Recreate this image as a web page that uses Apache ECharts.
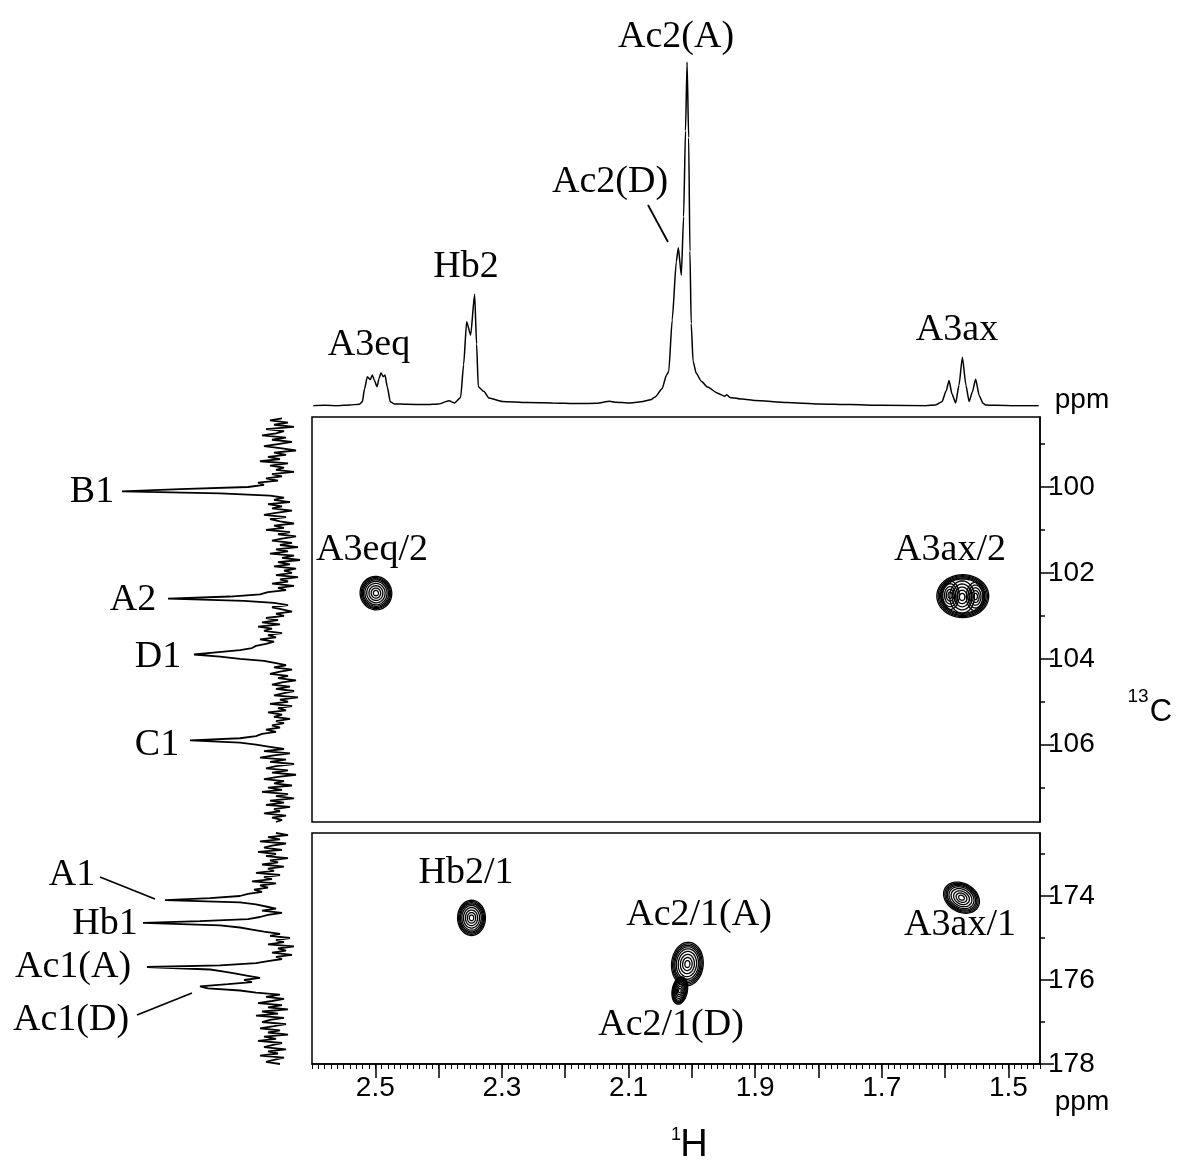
<!DOCTYPE html>
<html>
<head>
<meta charset="utf-8">
<script src="https://cdn.jsdelivr.net/npm/echarts@6/dist/echarts.min.js"></script>
<style>
html,body{margin:0;padding:0;background:#fff;}
#c{width:1177px;height:1161px;}
</style>
</head>
<body>
<div id="c"></div>
<script>
// ---- 1H axis ticks / labels ----
var hMajorTicks = [1.5,1.6,1.7,1.8,1.9,2.0,2.1,2.2,2.3,2.4,2.5];
var hLabels = [1.5,1.7,1.9,2.1,2.3,2.5];
// ---- 13C axis ticks / labels ----
var cUpperMajor = [100,102,104,106];
var cUpperMinor = [99,101,103,105,107];
var cLowerMajor = [174,176,178];
var cLowerMinor = [173,175,177];

// ---- 1D 1H spectrum (top) : [ppm, intensity] ----
var topSpectrum = [
[2.598,0.1],[2.58,0.2],[2.56,0.1],[2.54,0.3],[2.525,0.5],[2.5205,1.2],[2.517,5.0],[2.5126,8.5],[2.5079,7.7],[2.5047,9.0],[2.5015,7.5],[2.4973,5.6],[2.494,8.0],[2.491,9.7],[2.4874,8.5],[2.4847,9.0],[2.481,5.5],[2.4763,1.2],[2.47,0.6],[2.45,0.5],[2.42,0.4],[2.40,0.6],[2.3836,1.5],[2.375,0.9],[2.3652,2.5],[2.3605,12],[2.3557,24.5],[2.3494,20.6],[2.3431,32.5],[2.340,18],[2.3373,5.6],[2.3283,4.2],[2.3204,2.3],[2.2994,1.3],[2.26,1.0],[2.22,0.9],[2.18,0.7],[2.15,0.8],[2.13,1.4],[2.12,1.1],[2.10,0.9],[2.08,1.2],[2.065,1.8],[2.058,2.6],[2.047,5.0],[2.040,9.0],[2.0365,10],[2.031,25],[2.0245,42],[2.0213,46],[2.0166,38],[2.013,55],[2.010,80],[2.0075,100],[2.005,78],[2.003,45],[2.001,24],[1.998,13],[1.993,9.5],[1.985,7.2],[1.975,5.5],[1.96,3.8],[1.948,2.8],[1.945,3.3],[1.94,2.5],[1.92,2.0],[1.90,1.6],[1.85,1.0],[1.80,0.6],[1.75,0.4],[1.70,0.2],[1.63,0.1],[1.615,0.3],[1.605,1.2],[1.598,4.5],[1.5937,7.4],[1.589,3.5],[1.5832,0.9],[1.578,6],[1.5726,14.2],[1.567,6],[1.562,1.3],[1.557,4],[1.5516,7.8],[1.546,3],[1.54,0.8],[1.536,0.3],[1.52,0.2],[1.49,0.1],[1.452,0.1]
];

// ---- 13C projection, upper region : [intensity, ppm] ----
var projUpper = [
[9,98.40],[15,98.45],[6,98.50],[13,98.55],[3,98.60],[17,98.65],[8,98.70],[12,98.75],[19,98.80],[7,98.85],[14,98.90],[4,98.95],[11,99.00],[18,99.05],[9,99.10],[2,99.15],[13,99.20],[7,99.25],[16,99.30],[10,99.35],[20,99.40],[6,99.45],[15,99.50],[8,99.55],[12,99.60],[3,99.65],[14,99.70],[9,99.75],[17,99.80],[11,99.85],[21,99.90],[18,99.95],
[26,100.00],[60,100.05],[89,100.10],[40,100.15],[15,100.20],
[8,100.25],[13,100.30],[5,100.35],[16,100.40],[9,100.45],[14,100.50],[4,100.55],[12,100.60],[18,100.65],[7,100.70],[15,100.75],[10,100.80],[3,100.85],[13,100.90],[8,100.95],[17,101.00],[5,101.05],[11,101.10],[2,101.15],[9,101.20],[14,101.25],[4,101.30],[10,101.35],[1,101.40],[12,101.45],[6,101.50],[15,101.55],[3,101.60],[9,101.65],[0,101.70],[11,101.75],[5,101.80],[13,101.85],[2,101.90],[8,101.95],[4,102.00],[12,102.05],[1,102.10],[10,102.15],[6,102.20],[14,102.25],[3,102.30],[11,102.35],[7,102.40],[16,102.45],[20,102.50],
[35,102.55],[66,102.60],[28,102.65],[13,102.70],
[6,102.75],[14,102.80],[9,102.85],[4,102.90],[12,102.95],[8,103.00],[17,103.05],[11,103.10],[19,103.15],[10,103.20],[21,103.25],[14,103.30],[18,103.35],[9,103.40],[16,103.45],[12,103.50],[20,103.55],[13,103.60],[17,103.65],[22,103.70],[24,103.75],
[30,103.80],[42,103.85],[53,103.90],[40,103.95],[30,104.00],[18,104.05],
[12,104.10],[7,104.15],[13,104.20],[4,104.25],[10,104.30],[15,104.35],[6,104.40],[11,104.45],[2,104.50],[9,104.55],[14,104.60],[5,104.65],[12,104.70],[3,104.75],[8,104.80],[13,104.85],[1,104.90],[10,104.95],[6,105.00],[15,105.05],[4,105.10],[11,105.15],[7,105.20],[16,105.25],[9,105.30],[13,105.35],[5,105.40],[12,105.45],[8,105.50],[14,105.55],[10,105.60],[17,105.65],[12,105.70],[19,105.75],[22,105.80],
[30,105.85],[55,105.90],[30,105.95],[22,106.00],
[15,106.05],[8,106.10],[18,106.15],[5,106.20],[13,106.25],[20,106.30],[7,106.35],[15,106.40],[3,106.45],[12,106.50],[17,106.55],[6,106.60],[14,106.65],[2,106.70],[11,106.75],[18,106.80],[8,106.85],[13,106.90],[4,106.95],[16,107.00],[9,107.05],[19,107.10],[6,107.15],[12,107.20],[3,107.25],[15,107.30],[8,107.35],[17,107.40],[5,107.45],[13,107.50],[10,107.55],[18,107.60],[7,107.65],[14,107.70],[9,107.75],[12,107.80]
];

// ---- 13C projection, lower (carbonyl) region : [intensity, ppm] ----
var projLower = [
[12,172.50],[6,172.55],[16,172.60],[10,172.65],[20,172.70],[7,172.75],[14,172.80],[18,172.85],[9,172.90],[21,172.95],[12,173.00],[17,173.05],[6,173.10],[15,173.15],[11,173.20],[19,173.25],[8,173.30],[16,173.35],[13,173.40],[22,173.45],[10,173.50],[18,173.55],[14,173.60],[24,173.65],[12,173.70],[20,173.75],[16,173.80],[23,173.85],[19,173.90],[26,173.95],
[30,174.00],[45,174.05],[67.5,174.10],[30,174.15],[22,174.20],
[17,174.25],[12,174.30],[19,174.35],[9,174.40],[16,174.45],[20,174.50],[26,174.55],
[50,174.60],[78.5,174.64],[40,174.70],[30,174.75],[24,174.80],[18,174.85],
[10,174.90],[15,174.95],[5,175.00],[12,175.05],[8,175.10],[16,175.15],[3,175.20],[11,175.25],[7,175.30],[14,175.35],[4,175.40],[12,175.45],[9,175.50],[16,175.55],[22,175.60],
[40,175.65],[76.5,175.69],[45,175.75],[38,175.80],[32,175.85],[26,175.90],[20,175.95],[28,176.00],[24,176.05],
[36,176.10],[50,176.15],[46,176.20],[30,176.25],[22,176.30],
[10,176.35],[17,176.40],[8,176.45],[14,176.50],[21,176.55],[9,176.60],[16,176.65],[6,176.70],[19,176.75],[11,176.80],[22,176.85],[8,176.90],[15,176.95],[19,177.00],[7,177.05],[13,177.10],[20,177.15],[10,177.20],[16,177.25],[6,177.30],[18,177.35],[12,177.40],[21,177.45],[9,177.50],[14,177.55],[18,177.60],[7,177.65],[16,177.70],[11,177.75],[20,177.80],[8,177.85],[13,177.90],[17,177.95],[10,178.00]
];

// ---- 2D cross peaks : [1H ppm, 13C ppm, half width 1H, half width 13C, tilt deg, level set] ----
var peaksUpper = [
[2.499,102.47,0.025,0.39,-10,0],
[1.572,102.54,0.041,0.50,0,1],
[1.592,102.52,0.020,0.46,0,2],
[1.573,102.56,0.027,0.52,0,2],
[1.552,102.55,0.020,0.46,0,2]
];
var peaksLower = [
[2.348,174.52,0.022,0.42,0,0],
[2.007,175.62,0.025,0.52,5,0],
[2.019,176.25,0.012,0.33,10,0],
[1.574,174.04,0.030,0.34,30,0]
];
var contourLevelSets = [
  [1,0.93,0.86,0.79,0.7,0.58,0.44,0.3,0.16],
  [1,0.95,0.9,0.85,0.8],
  [0.72,0.58,0.44,0.3,0.16]
];

function expand(peaks){
  var out=[];
  peaks.forEach(function(p){
    contourLevelSets[p[5]].forEach(function(l){ out.push([p[0],p[1],p[2],p[3],p[4],l]); });
  });
  return out;
}
function renderContour(params, api){
  var cx=api.value(0), cy=api.value(1), rx=api.value(2), ry=api.value(3), rot=api.value(4), lv=api.value(5);
  var c=api.coord([cx,cy]);
  var s=api.size([rx*2*lv, ry*2*lv],[cx,cy]);
  var a=Math.abs(s[0])/2, b=Math.abs(s[1])/2;
  var th=rot*Math.PI/180, pts=[];
  for(var i=0;i<48;i++){
    var t=2*Math.PI*i/48, ex=a*Math.cos(t), ey=b*Math.sin(t);
    pts.push([c[0]+ex*Math.cos(th)-ey*Math.sin(th), c[1]+ex*Math.sin(th)+ey*Math.cos(th)]);
  }
  return {type:'polygon', shape:{points:pts}, style:{fill:'none', stroke:'#000', lineWidth:1.3}};
}

var SERIF='"Liberation Serif", "Times New Roman", serif';
var SANS='"Liberation Sans", Arial, sans-serif';
var H_MIN=1.45, H_MAX=2.6;
var CU_MIN=98.37, CU_MAX=107.8, CL_MIN=172.5, CL_MAX=178;

function hAxis(grid, show){
  return {type:'value', gridIndex:grid, min:H_MIN, max:H_MAX, inverse:true, show:show,
    axisLine:{onZero:false}, splitLine:{show:false}};
}

var chart=echarts.init(document.getElementById('c'));
var labels=[
  ['Ac2(A)',676,37],['Ac2(D)',610,182],['Hb2',466,267],['A3eq',369,345],['A3ax',957,330],
  ['A3eq/2',372,550],['A3ax/2',950,550],['Hb2/1',466,873],['Ac2/1(A)',699,915],['Ac2/1(D)',671,1025],['A3ax/1',960,925],
  ['B1',92,492],['A2',133,600],['D1',158,657],['C1',157,745],['A1',72,875],['Hb1',105,924],['Ac1(A)',73,967],['Ac1(D)',71,1020]
];
var graphics=labels.map(function(l){
  return {type:'text', x:l[1], y:l[2], style:{text:l[0], font:'38px '+SERIF, fill:'#000', textAlign:'center', textVerticalAlign:'middle'}};
});
[[648,205,668,242],[100,877,155,899],[137,1015,192,993]].forEach(function(s){
  graphics.push({type:'line', shape:{x1:s[0],y1:s[1],x2:s[2],y2:s[3]}, style:{stroke:'#000', lineWidth:1.8}});
});
graphics.push({type:'text', x:1082, y:400, style:{text:'ppm', font:'28px '+SANS, fill:'#000', textAlign:'center', textVerticalAlign:'middle'}});
graphics.push({type:'text', x:1082, y:1102, style:{text:'ppm', font:'28px '+SANS, fill:'#000', textAlign:'center', textVerticalAlign:'middle'}});
graphics.push({type:'text', x:1138, y:697, style:{text:'13', font:'19px '+SANS, fill:'#000', textAlign:'center', textVerticalAlign:'middle'}});
graphics.push({type:'text', x:1161, y:712, style:{text:'C', font:'31px '+SANS, fill:'#000', textAlign:'center', textVerticalAlign:'middle'}});
graphics.push({type:'text', x:676, y:1135, style:{text:'1', font:'18px '+SANS, fill:'#000', textAlign:'center', textVerticalAlign:'middle'}});
graphics.push({type:'text', x:694, y:1146, style:{text:'H', font:'38px '+SANS, fill:'#000', textAlign:'center', textVerticalAlign:'middle'}});

var option={
  animation:false,
  backgroundColor:'#fff',
  grid:[
    {left:312, width:728, top:62, height:344, show:false},
    {left:312, width:728, top:417, height:405, show:true, borderColor:'#000', borderWidth:1.5},
    {left:312, width:728, top:833, height:231, show:true, borderColor:'#000', borderWidth:1.5},
    {left:100, width:200, top:417, height:405, show:false},
    {left:100, width:200, top:833, height:231, show:false}
  ],
  xAxis:[
    hAxis(0,false),
    hAxis(1,false),
    {type:'value', gridIndex:2, min:H_MIN, max:H_MAX, inverse:true, position:'bottom',
      axisLine:{show:true, onZero:false, lineStyle:{color:'#000', width:1.5}},
      axisTick:{show:true, customValues:hMajorTicks, length:14, lineStyle:{color:'#000', width:1.5}},
      axisLabel:{show:true, customValues:hLabels, margin:10, color:'#000', fontSize:28, fontFamily:SANS,
        formatter:function(v){return v.toFixed(1);}},
      splitLine:{show:false}},
    {type:'value', gridIndex:2, min:H_MIN, max:H_MAX, interval:0.05, inverse:true, position:'bottom',
      axisLine:{show:false, onZero:false},
      axisTick:{show:true, length:5, lineStyle:{color:'#000', width:1}},
      minorTick:{show:true, splitNumber:5, length:5, lineStyle:{color:'#000', width:1}},
      axisLabel:{show:false}, splitLine:{show:false}, minorSplitLine:{show:false}},
    {type:'value', gridIndex:3, min:0, max:100, inverse:true, show:false},
    {type:'value', gridIndex:4, min:0, max:100, inverse:true, show:false}
  ],
  yAxis:[
    {type:'value', gridIndex:0, min:0, max:100, show:false},
    {type:'value', gridIndex:1, min:CU_MIN, max:CU_MAX, inverse:true, position:'right',
      axisLine:{show:true, onZero:false, lineStyle:{color:'#000', width:1.5}},
      axisTick:{show:true, customValues:cUpperMajor, length:14, lineStyle:{color:'#000', width:1.5}},
      axisLabel:{show:true, customValues:cUpperMajor, margin:8, color:'#000', fontSize:28, fontFamily:SANS},
      splitLine:{show:false}},
    {type:'value', gridIndex:1, min:CU_MIN, max:CU_MAX, inverse:true, position:'right',
      axisLine:{show:false, onZero:false},
      axisTick:{show:true, customValues:cUpperMinor, length:5, lineStyle:{color:'#000', width:1.5}},
      axisLabel:{show:false}, splitLine:{show:false}},
    {type:'value', gridIndex:2, min:CL_MIN, max:CL_MAX, inverse:true, position:'right',
      axisLine:{show:true, onZero:false, lineStyle:{color:'#000', width:1.5}},
      axisTick:{show:true, customValues:cLowerMajor, length:14, lineStyle:{color:'#000', width:1.5}},
      axisLabel:{show:true, customValues:cLowerMajor, margin:8, color:'#000', fontSize:28, fontFamily:SANS},
      splitLine:{show:false}},
    {type:'value', gridIndex:2, min:CL_MIN, max:CL_MAX, inverse:true, position:'right',
      axisLine:{show:false, onZero:false},
      axisTick:{show:true, customValues:cLowerMinor, length:5, lineStyle:{color:'#000', width:1.5}},
      axisLabel:{show:false}, splitLine:{show:false}},
    {type:'value', gridIndex:3, min:CU_MIN, max:CU_MAX, inverse:true, show:false},
    {type:'value', gridIndex:4, min:CL_MIN, max:CL_MAX, inverse:true, show:false}
  ],
  series:[
    {type:'line', xAxisIndex:0, yAxisIndex:0, data:topSpectrum, showSymbol:false, symbol:'none',
      smooth:0.2, smoothMonotone:'x', lineStyle:{color:'#000', width:1.5}},
    {type:'line', xAxisIndex:4, yAxisIndex:5, data:projUpper, showSymbol:false, symbol:'none',
      lineStyle:{color:'#000', width:1.8}},
    {type:'line', xAxisIndex:5, yAxisIndex:6, data:projLower, showSymbol:false, symbol:'none',
      lineStyle:{color:'#000', width:1.8}},
    {type:'custom', xAxisIndex:1, yAxisIndex:1, data:expand(peaksUpper), renderItem:renderContour},
    {type:'custom', xAxisIndex:2, yAxisIndex:3, data:expand(peaksLower), renderItem:renderContour}
  ],
  graphic:graphics
};
chart.setOption(option);
</script>
</body>
</html>
